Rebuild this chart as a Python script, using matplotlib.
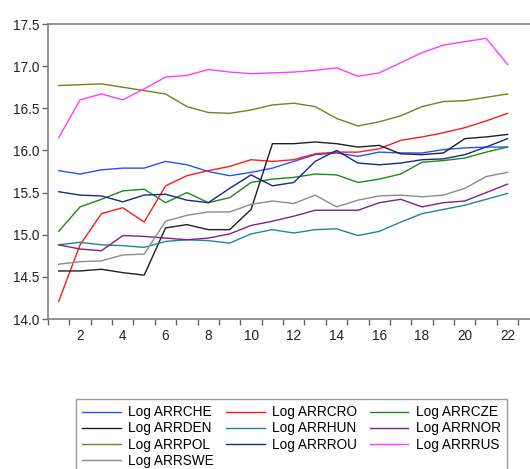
import numpy as np
import matplotlib
matplotlib.use("Agg")
import matplotlib.pyplot as plt
from matplotlib.ticker import MultipleLocator, FixedLocator

plt.rcParams['font.family'] = ['Liberation Sans', 'DejaVu Sans']

# observations 1..22
obs = np.arange(1, 23)

che = [15.76, 15.72, 15.77, 15.79, 15.79, 15.87, 15.83, 15.75, 15.70, 15.74, 15.79,
       15.87, 15.95, 15.97, 15.93, 15.98, 15.97, 15.97, 16.01, 16.03, 16.04, 16.04]
cro = [14.21, 14.88, 15.25, 15.32, 15.15, 15.58, 15.70, 15.76, 15.81, 15.89, 15.87,
       15.89, 15.96, 15.98, 15.98, 16.02, 16.12, 16.16, 16.21, 16.27, 16.35, 16.44]
cze = [15.04, 15.33, 15.42, 15.52, 15.54, 15.38, 15.50, 15.38, 15.44, 15.62, 15.66,
       15.68, 15.72, 15.71, 15.62, 15.66, 15.72, 15.86, 15.88, 15.91, 15.98, 16.04]
den = [14.57, 14.57, 14.59, 14.55, 14.52, 15.08, 15.12, 15.06, 15.06, 15.30, 16.08,
       16.08, 16.10, 16.08, 16.04, 16.06, 15.96, 15.95, 15.97, 16.14, 16.16, 16.19]
hun = [14.88, 14.91, 14.88, 14.87, 14.85, 14.92, 14.94, 14.93, 14.90, 15.01, 15.06,
       15.02, 15.06, 15.07, 14.99, 15.04, 15.15, 15.25, 15.30, 15.35, 15.42, 15.49]
nor = [14.88, 14.83, 14.81, 14.99, 14.98, 14.96, 14.94, 14.96, 15.01, 15.11, 15.16,
       15.22, 15.29, 15.29, 15.29, 15.38, 15.42, 15.33, 15.38, 15.40, 15.50, 15.60]
pol = [16.77, 16.78, 16.79, 16.75, 16.71, 16.67, 16.52, 16.45, 16.44, 16.48, 16.54,
       16.56, 16.52, 16.38, 16.29, 16.34, 16.41, 16.52, 16.58, 16.59, 16.63, 16.67]
rou = [15.51, 15.47, 15.46, 15.39, 15.47, 15.48, 15.41, 15.38, 15.55, 15.71, 15.58,
       15.62, 15.87, 16.00, 15.85, 15.83, 15.85, 15.89, 15.90, 15.95, 16.04, 16.14]
rus = [16.15, 16.60, 16.67, 16.60, 16.73, 16.87, 16.89, 16.96, 16.93, 16.91, 16.92,
       16.93, 16.95, 16.98, 16.88, 16.92, 17.04, 17.16, 17.25, 17.29, 17.33, 17.02]
swe = [14.65, 14.68, 14.69, 14.76, 14.77, 15.16, 15.23, 15.27, 15.27, 15.36, 15.40,
       15.37, 15.47, 15.33, 15.41, 15.46, 15.47, 15.45, 15.47, 15.55, 15.69, 15.74]

names = ['Log ARRCHE', 'Log ARRCRO', 'Log ARRCZE', 'Log ARRDEN', 'Log ARRHUN',
         'Log ARRNOR', 'Log ARRPOL', 'Log ARRROU', 'Log ARRRUS', 'Log ARRSWE']
series = [che, cro, cze, den, hun, nor, pol, rou, rus, swe]
colors = ['#2452ff', '#ff1a1a', '#1a8a1a', '#202020', '#1a8c8c',
          '#80208a', '#7d7d1a', '#1a2a80', '#ff3cff', '#8c8c8c']

fig = plt.figure(figsize=(5.30, 4.69), dpi=100)
ax = fig.add_axes([48 / 530, 1 - 319 / 469, 1 - 48 / 530, (319 - 24) / 469])

handles = []
for s, c, n in zip(series, colors, names):
    h, = ax.plot(obs, s, color=c, lw=1.0, label=n)
    handles.append(h)

ax.set_xlim(0.5, 23.05)
ax.set_ylim(14.0, 17.5)
ax.yaxis.set_major_locator(MultipleLocator(0.5))
ax.yaxis.set_major_formatter(matplotlib.ticker.FormatStrFormatter('%.1f'))
ax.xaxis.set_major_locator(FixedLocator(np.arange(2, 23, 2)))
ax.xaxis.set_minor_locator(FixedLocator(np.arange(0.5, 23, 1.0)))
ax.tick_params(axis='x', which='major', length=0, pad=7, labelsize=9.8, colors='#222222')
ax.tick_params(axis='x', which='minor', length=4, width=1, color='#666666', direction='out')
ax.tick_params(axis='y', length=4, width=1, color='#666666', labelsize=9.8,
               labelcolor='#222222', pad=2)

for side in ['left', 'top', 'bottom']:
    ax.spines[side].set_color('#808080')
    ax.spines[side].set_linewidth(1.2)
ax.spines['right'].set_visible(False)

# legend laid out row-wise as in the original (3 columns)
order = [0, 3, 6, 9, 1, 4, 7, 2, 5, 8]
leg = fig.legend([handles[i] for i in order], [names[i] for i in order],
                 loc='upper left', bbox_to_anchor=(75.7 / 530, 1 - 399.3 / 469),
                 ncol=3, fontsize=9.8, frameon=True, fancybox=False,
                 edgecolor='#808080', handlelength=2.85, handletextpad=0.55,
                 columnspacing=0.9, labelspacing=0.15, borderpad=0.45,
                 borderaxespad=0)
leg.get_frame().set_linewidth(1.0)

fig.savefig('out.png', dpi=100)
